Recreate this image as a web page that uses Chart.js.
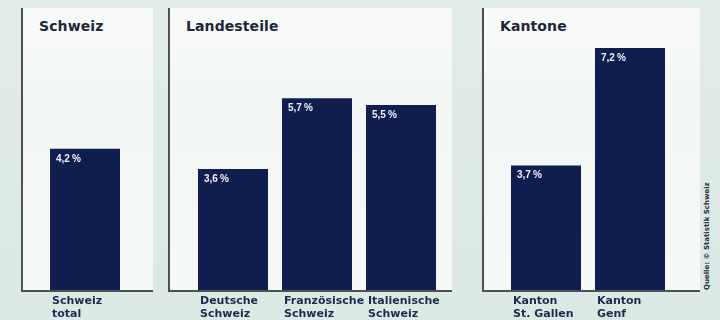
<!DOCTYPE html>
<html>
<head>
<meta charset="utf-8">
<script src="https://cdn.jsdelivr.net/npm/chart.js@4/dist/chart.umd.min.js"></script>
<style>
  html, body { margin: 0; padding: 0; background: #dde9e4; }
  #wrap { position: relative; width: 720px; height: 320px; overflow: hidden;
          background: linear-gradient(180deg, #e2ece8 0%, #dbe8e3 100%); }
  .panel { position: absolute; top: 8px; height: 282px; box-sizing: content-box;
           border-left: 2px solid #4b5251; border-bottom: 2px solid #4b5251;
           background: linear-gradient(180deg, #f9fbfa 0%, #f2f7f5 30%, #f5f9f7 100%); }
  .title { position: absolute; top: 10px; left: 16px; font: bold 14px "DejaVu Sans", sans-serif;
           color: #1e2638; letter-spacing: 0.1px; white-space: nowrap; }
  canvas { position: absolute; top: 0; }
  #credit { position: absolute; left: 703px; top: 290px; transform-origin: 0 0; transform: rotate(-90deg);
            font: bold 7px "DejaVu Sans", sans-serif; color: #2a3040; white-space: nowrap; }
</style>
</head>
<body>
<div id="wrap">
  <div class="panel" id="p0"><div class="title"></div></div>
  <div class="panel" id="p1"><div class="title"></div></div>
  <div class="panel" id="p2"><div class="title"></div></div>
  <canvas id="c0"></canvas>
  <canvas id="c1"></canvas>
  <canvas id="c2"></canvas>
  <div id="credit">Quelle: © Statistik Schweiz</div>
</div>
<script>
// Panel headings
const panelTitles = ['Schweiz', 'Landesteile', 'Kantone'];

// Categories (two-line labels) and values in percent
const schweizCategories = [['Schweiz', 'total']];
const schweizValues = [4.2];

const landesteilCategories = [['Deutsche', 'Schweiz'], ['Französische', 'Schweiz'], ['Italienische', 'Schweiz']];
const landesteilValues = [3.6, 5.7, 5.5];

const kantonCategories = [['Kanton', 'St. Gallen'], ['Kanton', 'Genf']];
const kantonValues = [3.7, 7.2];

const yMax = 8;

const BAR = '#0f1e4f';
const LABEL = '#1c2a4e';

// Panel geometry: frame left edge, frame width, plot padding left/right
const panels = [
  { left: 21,  width: 132, padL: 22, padR: 26, cats: schweizCategories,    vals: schweizValues },
  { left: 168, width: 284, padL: 23, padR: 9,  cats: landesteilCategories, vals: landesteilValues },
  { left: 482, width: 218, padL: 22, padR: 28, cats: kantonCategories,     vals: kantonValues }
];

const fmt = v => v.toFixed(1).replace('.', ',') + '\u202F%';

// Value text inside the top of each bar and category text under the baseline
const barText = {
  id: 'barText',
  afterDatasetsDraw(chart) {
    const ctx = chart.ctx;
    const meta = chart.getDatasetMeta(0);
    const data = chart.data.datasets[0].data;
    ctx.save();
    ctx.textBaseline = 'middle';
    ctx.textAlign = 'left';
    meta.data.forEach((bar, i) => {
      const left = bar.x - bar.width / 2;
      ctx.fillStyle = '#eef2fa';
      ctx.font = 'bold 10px "Liberation Sans", sans-serif';
      ctx.fillText(fmt(data[i]), left + 6, bar.y + 10);
      ctx.fillStyle = LABEL;
      ctx.font = 'bold 11px "DejaVu Sans", sans-serif';
      const lines = chart.data.labels[i];
      lines.forEach((ln, k) => ctx.fillText(ln, left + 2, chart.chartArea.bottom + 11 + k * 13));
    });
    ctx.restore();
  }
};

panels.forEach((p, idx) => {
  const frame = document.getElementById('p' + idx);
  frame.style.left = p.left + 'px';
  frame.style.width = (p.width - 2) + 'px';
  frame.querySelector('.title').textContent = panelTitles[idx];

  const cv = document.getElementById('c' + idx);
  cv.width = p.width;
  cv.height = 320;
  cv.style.left = p.left + 'px';

  new Chart(cv, {
    type: 'bar',
    data: {
      labels: p.cats,
      datasets: [{
        data: p.vals,
        backgroundColor: BAR,
        borderWidth: 0,
        categoryPercentage: 1,
        barPercentage: 70 / 84
      }]
    },
    options: {
      responsive: false,
      animation: false,
      devicePixelRatio: 1,
      layout: { padding: { left: p.padL, right: p.padR, top: 21, bottom: 30 } },
      plugins: { legend: { display: false }, tooltip: { enabled: false } },
      scales: {
        x: { display: false },
        y: { display: false, min: 0, max: yMax }
      }
    },
    plugins: [barText]
  });
});
</script>
</body>
</html>
